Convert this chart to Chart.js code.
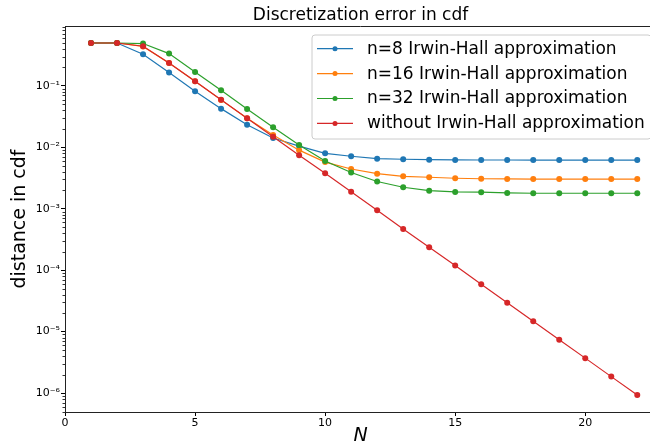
<!DOCTYPE html>
<html>
<head>
<meta charset="utf-8">
<script src="https://cdn.jsdelivr.net/npm/chart.js@4.4.0/dist/chart.umd.min.js"></script>
<style>
  html, body { margin: 0; padding: 0; background: #fff; overflow: hidden; width: 650px; height: 448px; }
  #wrap { position: relative; width: 660px; height: 448px; }
</style>
</head>
<body>
<div id="wrap"><canvas id="c"></canvas></div>
<script>
const N = [1, 2, 3, 4, 5, 6, 7, 8, 9, 10, 11, 12, 13, 14, 15, 16, 17, 18, 19, 20, 21, 22];

const irwinHall8 = [0.5, 0.5, 0.328, 0.165, 0.082, 0.0427, 0.0234, 0.0142, 0.0105, 0.0080, 0.00716, 0.00655,
  0.0064, 0.0063, 0.00624, 0.00622, 0.00622, 0.00621, 0.00621, 0.00621, 0.00621, 0.00621];
const irwinHall16 = [0.5, 0.5, 0.44, 0.237, 0.119, 0.0593, 0.0298, 0.0159, 0.0090, 0.00575, 0.00444, 0.00373,
  0.00338, 0.00326, 0.00314, 0.00308, 0.00306, 0.00305, 0.00305, 0.00305, 0.00305, 0.00305];
const irwinHall32 = [0.5, 0.5, 0.49, 0.336, 0.169, 0.085, 0.0422, 0.0212, 0.0109, 0.0060, 0.00389, 0.00278,
  0.00224, 0.00197, 0.00188, 0.00186, 0.00181, 0.00179, 0.00179, 0.00179, 0.00179, 0.00179];
const withoutIrwinHall = [0.5, 0.5, 0.443, 0.237, 0.119, 0.0595, 0.0298, 0.0149, 0.00743, 0.0038, 0.0019, 0.00095,
  0.000469, 0.000236, 0.000119, 0.000059, 0.0000295, 0.0000147, 0.0000074, 0.0000037, 0.00000185, 0.00000093];

const seriesLabels = [
  'n=8 Irwin-Hall approximation',
  'n=16 Irwin-Hall approximation',
  'n=32 Irwin-Hall approximation',
  'without Irwin-Hall approximation'
];
const seriesColors = ['#1f77b4', '#ff7f0e', '#2ca02c', '#d62728'];

const xTickValues = [0, 5, 10, 15, 20];
const yTickValues = [1e-6, 1e-5, 1e-4, 1e-3, 1e-2, 1e-1];
const yTickLabels = ['10⁻⁶', '10⁻⁵', '10⁻⁴', '10⁻³', '10⁻²', '10⁻¹'];

const allSeries = [irwinHall8, irwinHall16, irwinHall32, withoutIrwinHall];

const datasets = allSeries.map((vals, i) => ({
  label: seriesLabels[i],
  data: N.map((n, j) => ({ x: n, y: vals[j] })),
  borderColor: seriesColors[i],
  backgroundColor: seriesColors[i],
  pointBackgroundColor: seriesColors[i],
  pointBorderWidth: 0,
  pointRadius: 3,
  borderWidth: 1.2,
  tension: 0,
  order: allSeries.length - i
}));

const FONT = "'DejaVu Sans', sans-serif";

const framePlugin = {
  id: 'frame',
  afterDraw(chart) {
    const { ctx, chartArea } = chart;
    const ys = chart.scales.y;
    ctx.save();
    // top spine
    ctx.strokeStyle = '#222';
    ctx.lineWidth = 1;
    ctx.beginPath();
    ctx.moveTo(chartArea.left, Math.round(chartArea.top) + 0.5);
    ctx.lineTo(chartArea.right, Math.round(chartArea.top) + 0.5);
    ctx.stroke();
    // minor log ticks
    ctx.strokeStyle = '#000';
    ctx.lineWidth = 0.8;
    for (let k = -8; k <= 0; k++) {
      for (let m = 2; m <= 9; m++) {
        const v = m * Math.pow(10, k);
        if (v < ys.min || v > ys.max) continue;
        const py = Math.round(ys.getPixelForValue(v)) + 0.5;
        ctx.beginPath();
        ctx.moveTo(chartArea.left - 2.5, py);
        ctx.lineTo(chartArea.left, py);
        ctx.stroke();
      }
    }
    // legend
    const bx = 312, by = 35, bw = 339, bh = 104, r = 3;
    ctx.fillStyle = 'rgba(255,255,255,0.8)';
    ctx.strokeStyle = '#cccccc';
    ctx.lineWidth = 1;
    ctx.beginPath();
    ctx.moveTo(bx + r, by);
    ctx.lineTo(bx + bw - r, by);
    ctx.arcTo(bx + bw, by, bx + bw, by + r, r);
    ctx.lineTo(bx + bw, by + bh - r);
    ctx.arcTo(bx + bw, by + bh, bx + bw - r, by + bh, r);
    ctx.lineTo(bx + r, by + bh);
    ctx.arcTo(bx, by + bh, bx, by + bh - r, r);
    ctx.lineTo(bx, by + r);
    ctx.arcTo(bx, by, bx + r, by, r);
    ctx.closePath();
    ctx.fill();
    ctx.stroke();
    chart.data.datasets.forEach((ds, i) => {
      const cy = 48.7 + i * 24.9;
      ctx.strokeStyle = ds.borderColor;
      ctx.lineWidth = 1.2;
      ctx.beginPath();
      ctx.moveTo(317, cy);
      ctx.lineTo(353, cy);
      ctx.stroke();
      ctx.fillStyle = ds.borderColor;
      ctx.beginPath();
      ctx.arc(335, cy, 2.5, 0, Math.PI * 2);
      ctx.fill();
      ctx.fillStyle = '#000';
      ctx.font = '17px ' + FONT;
      ctx.textBaseline = 'middle';
      ctx.textAlign = 'left';
      ctx.fillText(ds.label, 367, cy + 0.5);
    });
    ctx.restore();
  }
};

new Chart(document.getElementById('c'), {
  type: 'line',
  data: { datasets },
  options: {
    responsive: true,
    maintainAspectRatio: false,
    animation: false,
    devicePixelRatio: 1,
    layout: { padding: { left: 0, right: 2, top: 0, bottom: 0 } },
    plugins: {
      legend: { display: false },
      tooltip: { enabled: false },
      title: {
        display: true,
        text: 'Discretization error in cdf',
        fullSize: false,
        color: '#000',
        font: { family: FONT, size: 17, weight: 'normal', lineHeight: 1.2 },
        padding: { top: 5, bottom: 0.6 }
      }
    },
    scales: {
      x: {
        type: 'linear',
        min: 0,
        max: 22.72,
        afterFit(scale) { scale.height = 36; },
        afterBuildTicks(scale) { scale.ticks = xTickValues.map(v => ({ value: v })); },
        grid: { display: true, drawOnChartArea: false, drawTicks: true, tickLength: 4, tickColor: '#000', tickWidth: 1 },
        border: { display: true, color: '#222', width: 1 },
        ticks: {
          color: '#000',
          padding: 1,
          maxRotation: 0,
          autoSkip: false,
          font: { family: FONT, size: 11 },
          callback: (v) => String(v)
        },
        title: {
          display: true,
          text: 'N',
          color: '#000',
          font: { family: FONT, size: 19, style: 'italic', lineHeight: 1.2 },
          padding: { top: 0, bottom: 0.4 }
        }
      },
      y: {
        type: 'logarithmic',
        min: 4.91e-7,
        max: 0.946,
        afterFit(scale) { scale.width = 65; },
        afterBuildTicks(scale) { scale.ticks = yTickValues.map(v => ({ value: v })); },
        grid: { display: true, drawOnChartArea: false, drawTicks: true, tickLength: 4, tickColor: '#000', tickWidth: 1 },
        border: { display: true, color: '#222', width: 1 },
        ticks: {
          color: '#000',
          padding: 1,
          autoSkip: false,
          font: { family: FONT, size: 11 },
          callback: (v) => {
            const idx = yTickValues.findIndex(t => Math.abs(Math.log10(t) - Math.log10(v)) < 1e-6);
            return idx >= 0 ? yTickLabels[idx] : '';
          }
        },
        title: {
          display: true,
          text: 'distance in cdf',
          color: '#000',
          font: { family: FONT, size: 19, lineHeight: 1.2 },
          padding: { top: 8.6, bottom: 0 }
        }
      }
    }
  },
  plugins: [framePlugin]
});
</script>
</body>
</html>
